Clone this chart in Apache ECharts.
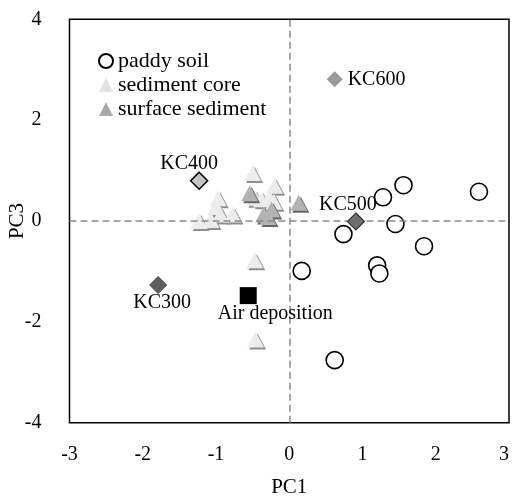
<!DOCTYPE html>
<html>
<head>
<meta charset="utf-8">
<script src="https://cdn.jsdelivr.net/npm/echarts@6/dist/echarts.min.js"></script>
<style>html,body{margin:0;padding:0;background:#fff}#c{width:512px;height:498px}</style>
</head>
<body>
<div id="c"></div>
<script>
// Paddy soil (PC1, PC3)
const paddyX = [1.56, 1.28, 2.59, 1.45, 0.74, 1.84, 1.20, 1.23, 0.17, 0.62];
const paddyY = [0.71, 0.47, 0.58, -0.06, -0.26, -0.50, -0.88, -1.04, -0.99, -2.76];
// Sediment core
const coreX = [-0.97, -1.00, -0.94, -0.77, -1.23, -1.07, -0.50, -0.20, -0.47, -0.38, -0.27, -0.21, -0.47, -0.46];
const coreY = [0.45, 0.28, 0.13, 0.13, 0.00, 0.02, 0.95, 0.70, 0.46, 0.43, 0.46, 0.38, -0.78, -2.35];
// Surface sediment
const surfX = [-0.54, -0.35, -0.24, -0.29, 0.13];
const surfY = [0.55, 0.13, 0.23, 0.08, 0.36];
// Labelled samples
const markNames = ['KC600', 'KC400', 'KC300', 'KC500', 'Air deposition'];
const markX = [0.62, -1.23, -1.79, 0.91, -0.56];
const markY = [2.81, 0.80, -1.27, -0.01, -1.48];
// Axis ticks
const xTicks = [-3, -2, -1, 0, 1, 2, 3];
const yTicks = [-4, -2, 0, 2, 4];

const serif = "'Liberation Serif', 'DejaVu Serif', serif";
const zip = (a, b) => a.map((v, i) => [v, b[i]]);

const markStyles = [
  {symbol: 'diamond', symbolSize: 16, itemStyle: {color: '#9a9a9a'}, label: {position: 'right', distance: 5}},
  {symbol: 'diamond', symbolSize: 17, itemStyle: {color: '#c4c4c4', borderColor: '#000', borderWidth: 1.5}, label: {position: 'top', distance: -2, offset: [-10, 0]}},
  {symbol: 'diamond', symbolSize: 17, itemStyle: {color: '#5f5f5f', borderColor: '#404040', borderWidth: 1}, label: {position: 'bottom', distance: -1, offset: [4, 0]}},
  {symbol: 'diamond', symbolSize: 17, itemStyle: {color: '#6f6f6f', borderColor: '#333', borderWidth: 1.2}, label: {position: 'top', distance: -2, offset: [-8, 0]}},
  {symbol: 'rect', symbolSize: 17, itemStyle: {color: '#000'}, label: {position: 'bottom', distance: 0, offset: [27, 0]}}
];

const markData = markNames.map((n, i) => Object.assign({name: n, value: [markX[i], markY[i]]}, markStyles[i]));

const triSize = [17, 16];

const chart = echarts.init(document.getElementById('c'), null, {renderer: 'canvas'});
chart.setOption({
  animation: false,
  grid: {left: 69.5, right: 3, top: 19.3, bottom: 75.3, show: true, borderColor: '#000', borderWidth: 1.5,
    backgroundColor: 'transparent', outerBoundsMode: 'none', containLabel: false},
  legend: {
    orient: 'vertical', left: 93, top: 44, itemWidth: 14, itemHeight: 14, itemGap: 0,
    textStyle: {fontFamily: serif, fontSize: 22, color: '#000', lineHeight: 24},
    data: [
      {name: 'paddy soil'},
      {name: 'sediment core', itemStyle: {color: '#e2e2e2'}},
      {name: 'surface sediment', itemStyle: {color: '#a8a8a8'}}
    ]
  },
  xAxis: {
    type: 'value', min: -3, max: 3, interval: 1,
    axisLine: {show: false}, axisTick: {show: false}, splitLine: {show: false},
    axisLabel: {fontFamily: serif, fontSize: 20, color: '#000', margin: 22,
      customValues: xTicks, alignMaxLabel: 'right'},
    name: 'PC1', nameLocation: 'middle', nameGap: 54, nameMoveOverlap: false,
    nameTextStyle: {fontFamily: serif, fontSize: 21, color: '#000'}
  },
  yAxis: {
    type: 'value', min: -4, max: 4, interval: 2,
    axisLine: {show: false}, axisTick: {show: false}, splitLine: {show: false},
    axisLabel: {fontFamily: serif, fontSize: 20, color: '#000', margin: 28,
      customValues: yTicks},
    name: 'PC3', nameLocation: 'middle', nameGap: 42, nameRotate: 90, nameMoveOverlap: false,
    nameTextStyle: {fontFamily: serif, fontSize: 21, color: '#000'}
  },
  series: [
    {
      name: 'guides', type: 'scatter', data: [], silent: true,
      markLine: {
        silent: true, symbol: ['none', 'none'], label: {show: false}, animation: false,
        lineStyle: {color: '#8a8a8a', width: 1.5, type: [7, 4]},
        data: [{xAxis: 0}, {yAxis: 0}]
      }
    },
    {
      name: 'paddy soil', type: 'scatter', symbol: 'circle', symbolSize: 17,
      itemStyle: {color: '#fff', borderColor: '#000', borderWidth: 1.6, opacity: 1},
      data: zip(paddyX, paddyY), z: 3
    },
    {
      name: 'core shadow', type: 'scatter', symbol: 'triangle', symbolSize: triSize, symbolOffset: [2, 2],
      itemStyle: {color: '#8e8e8e', opacity: 1}, silent: true,
      data: zip(coreX, coreY), z: 3
    },
    {
      name: 'sediment core', type: 'scatter', symbol: 'triangle', symbolSize: triSize,
      itemStyle: {color: '#ececec', opacity: 1},
      data: zip(coreX, coreY), z: 3
    },
    {
      name: 'surface shadow', type: 'scatter', symbol: 'triangle', symbolSize: triSize, symbolOffset: [2, 2],
      itemStyle: {color: '#666', opacity: 1}, silent: true,
      data: zip(surfX, surfY), z: 4
    },
    {
      name: 'surface sediment', type: 'scatter', symbol: 'triangle', symbolSize: triSize,
      itemStyle: {color: '#b3b3b3', opacity: 1},
      data: zip(surfX, surfY), z: 4
    },
    {
      name: 'samples', type: 'scatter', data: markData, z: 5,
      label: {show: true, formatter: '{b}', fontFamily: serif, fontSize: 20, color: '#000'},
      itemStyle: {opacity: 1}
    }
  ]
});
</script>
</body>
</html>
